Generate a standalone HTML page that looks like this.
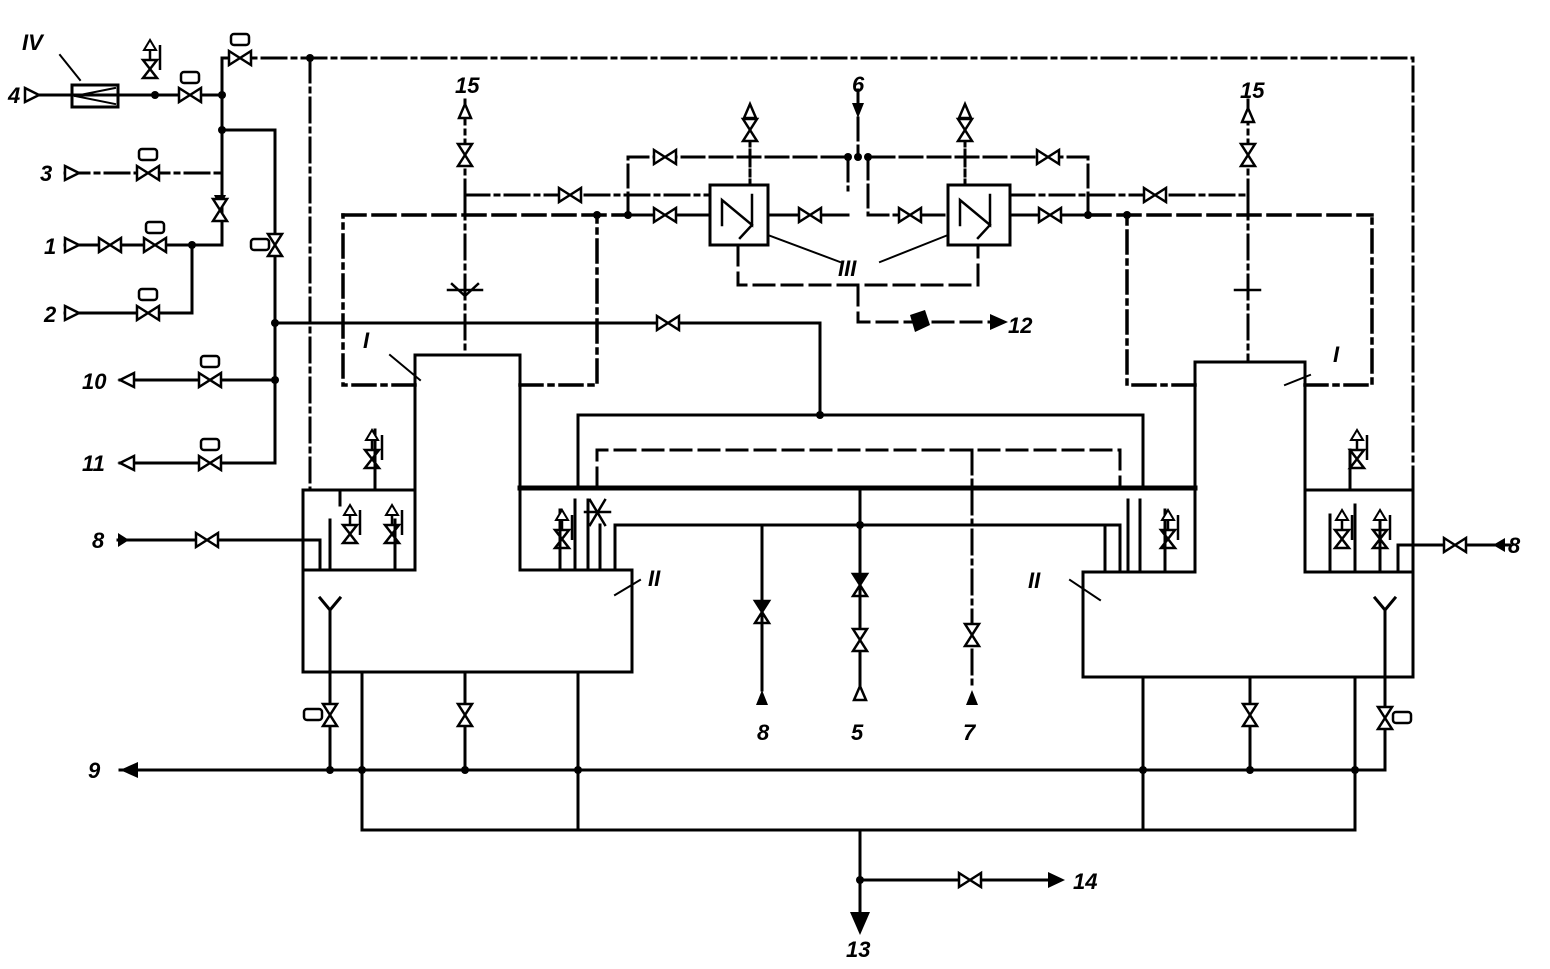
<!DOCTYPE html>
<html><head><meta charset="utf-8"><style>
html,body{margin:0;padding:0;background:#fff;}
svg{display:block}
text{font-family:"Liberation Sans",sans-serif;font-style:italic;font-weight:bold;font-size:22px;fill:#000}
</style></head><body>
<svg width="1550" height="969" viewBox="0 0 1550 969" xmlns="http://www.w3.org/2000/svg">
<defs>
<symbol id="vh" overflow="visible"><path d="M-11,-7 L11,7 L11,-7 L-11,7 Z" fill="#fff" stroke="#000" stroke-width="2.5"/></symbol>
<symbol id="vv" overflow="visible"><path d="M-7,-11 L7,-11 L-7,11 L7,11 Z" fill="#fff" stroke="#000" stroke-width="2.5"/></symbol>
<symbol id="vvf" overflow="visible"><path d="M-7,-11 L7,-11 L0,0 Z" fill="#000"/><path d="M-7,-11 L7,-11 L-7,11 L7,11 Z" fill="none" stroke="#000" stroke-width="2.5"/></symbol>
<symbol id="act" overflow="visible"><rect x="-9" y="-6" width="18" height="11" rx="3" fill="#fff" stroke="#000" stroke-width="2.5"/></symbol>
<symbol id="opn" overflow="visible"><path d="M0,-7 L14,0 L0,7 Z" fill="#fff" stroke="#000" stroke-width="2.5"/></symbol>
<symbol id="sv" overflow="visible"><path d="M0,-30 L-6,-20 L6,-20 Z" fill="#fff" stroke="#000" stroke-width="2"/><path d="M0,-20 L0,-10 M-7,-10 L7,-10 L-7,8 L7,8 Z M10,-25 L10,0" fill="none" stroke="#000" stroke-width="2.5"/></symbol>
</defs>
<g fill="none" stroke="#000" stroke-width="3" stroke-linecap="square">
<path d="M415,355 L520,355 L520,570 L632,570 L632,672 L303,672 L303,570 L415,570 Z"/>
<path d="M1195,362 L1305,362 L1305,572 L1413,572 L1413,677 L1083,677 L1083,572 L1195,572 Z"/>
<path d="M303,570 L303,490 L415,490 M520,488 L580,488 M1305,490 L1413,490 L1413,572"/>
<path d="M222,58 L1413,58 L1413,490 M310,58 L310,490" stroke-dasharray="24 6 4 6"/>
<path d="M35,95 L222,95 M222,58 L222,245 L65,245 M222,130 L275,130 L275,463 L120,463 M192,245 L192,313 L65,313 M275,380 L120,380"/>
<path d="M65,173 L222,173" stroke-dasharray="24 6 4 6"/>
<path d="M275,323 L580,323 M580,323 L820,323 L820,415"/>
<rect x="72" y="85" width="46" height="22"/><path d="M75,96 L115,88 M75,96 L115,104" stroke-width="2"/>
<path d="M60,55 L80,80" stroke-width="2"/>
<path d="M118,540 L320,540 L320,570"/>
<path d="M120,770 L1385,770 L1385,672 M362,672 L362,830 L1355,830 L1355,677 M578,672 L578,830 M1143,677 L1143,830 M860,830 L860,915 M860,880 L1060,880 M330,610 L330,770 M465,672 L465,770 M1250,677 L1250,770 M1385,610 L1385,770"/>
<path d="M320,598 L330,610 L340,598 M1375,598 L1385,610 L1395,598"/>
<path d="M520,488 L1195,488" stroke-width="5"/>
<path d="M578,488 L578,415 L1143,415 L1143,488 M615,570 L615,525 L1120,525 L1120,570 M860,488 L860,690 M762,525 L762,690 M600,570 L600,525 M1105,570 L1105,525"/>
<path d="M597,488 L597,450 L1120,450 L1120,488" stroke-dasharray="20 8"/>
<path d="M972,450 L972,690" stroke-dasharray="24 6 4 6"/>
<path d="M375,490 L375,430 M340,490 L340,505 M560,570 L560,510 M330,570 L330,520 M395,570 L395,520 M1165,572 L1165,510 M1330,572 L1330,515 M1355,572 L1355,505 M1380,572 L1380,520 M1350,490 L1350,450 M1398,572 L1398,545 L1510,545 M575,570 L575,500 M588,570 L588,500 M1128,572 L1128,500 M1140,572 L1140,500"/>
<path d="M343,215 L625,215" stroke-dasharray="22 8" stroke-width="3.5"/>
<path d="M415,385 L343,385 L343,215 M520,385 L597,385 L597,215" stroke-dasharray="22 7 4 7" stroke-width="3.5"/>
<path d="M1088,215 L1372,215" stroke-dasharray="22 8" stroke-width="3.5"/>
<path d="M1195,385 L1127,385 L1127,215 M1305,385 L1372,385 L1372,215" stroke-dasharray="22 7 4 7" stroke-width="3.5"/>
<path d="M628,215 L628,157 L848,157 L848,190 M858,90 L858,157 M868,157 L868,190 L868,215 L948,215 M1088,215 L1088,157 L868,157" stroke-dasharray="22 6"/>
<path d="M628,215 L710,215 M768,215 L848,215 M1010,215 L1088,215"/>
<path d="M465,195 L710,195 M1010,195 L1248,195" stroke-dasharray="24 6 4 6"/>
<path d="M465,100 L465,195 M465,195 L465,355 M1248,100 L1248,195 M1248,195 L1248,362" stroke-dasharray="24 6 4 6"/>
<path d="M750,110 L750,185 M965,110 L965,185" stroke-dasharray="6 4"/>
<rect x="710" y="185" width="58" height="60"/><rect x="948" y="185" width="62" height="60"/>
<path d="M722,225 L722,200 L752,225 L752,195 M740,238 L752,225 M960,225 L960,200 L990,225 L990,195 M978,238 L990,225" stroke-width="2.5"/>
<path d="M738,245 L738,285 L978,285 L978,245 M858,285 L858,322 L990,322" stroke-dasharray="20 8"/>
<path d="M768,235 L840,262 M948,235 L880,262" stroke-width="2"/>
<path d="M390,355 L420,380 M1310,375 L1285,385 M615,595 L640,580 M1100,600 L1070,580" stroke-width="2"/>
<path d="M448,290 L482,290 M452,284 L465,296 M478,284 L465,296 M1235,290 L1260,290" stroke-width="2.5"/>
<path d="M590,500 L605,525 M605,500 L590,525 M585,512 L610,512" stroke-width="2.5"/>
</g>
<g fill="#000">
<circle cx="310" cy="58" r="4"/><circle cx="222" cy="95" r="4"/><circle cx="222" cy="130" r="4"/><circle cx="192" cy="245" r="4"/><circle cx="275" cy="323" r="4"/><circle cx="275" cy="380" r="4"/><circle cx="858" cy="157" r="4"/><circle cx="848" cy="157" r="4"/><circle cx="868" cy="157" r="4"/><circle cx="597" cy="215" r="4"/><circle cx="628" cy="215" r="4"/><circle cx="1088" cy="215" r="4"/><circle cx="1127" cy="215" r="4"/><circle cx="820" cy="415" r="4"/><circle cx="860" cy="525" r="4"/><circle cx="362" cy="770" r="4"/><circle cx="578" cy="770" r="4"/><circle cx="1143" cy="770" r="4"/><circle cx="1355" cy="770" r="4"/><circle cx="330" cy="770" r="4"/><circle cx="465" cy="770" r="4"/><circle cx="1250" cy="770" r="4"/><circle cx="860" cy="880" r="4"/><circle cx="155" cy="95" r="4"/>
<path d="M120,770 L138,762 L138,778 Z"/><path d="M850,912 L870,912 L860,935 Z"/><path d="M1065,880 L1048,872 L1048,888 Z"/><path d="M1008,322 L990,314 L990,330 Z"/>
<path d="M852,103 L864,103 L858,118 Z"/><path d="M756,705 L768,705 L762,690 Z"/><path d="M966,705 L978,705 L972,690 Z"/>
<path d="M118,533 L118,547 L129,540 Z"/><path d="M1505,538 L1505,552 L1493,545 Z"/>
<path d="M214,195 L226,195 L220,208 Z"/>
<path d="M910,315 L925,310 L930,325 L915,332 Z"/>
</g>
<g>
<use href="#opn" x="25" y="95"/><use href="#opn" x="65" y="173"/><use href="#opn" x="65" y="245"/><use href="#opn" x="65" y="313"/>
<path d="M120,380 L134,373 L134,387 Z M120,463 L134,456 L134,470 Z" fill="#fff" stroke="#000" stroke-width="2.5"/>
<path d="M459,118 L471,118 L465,104 Z M1242,122 L1254,122 L1248,108 Z M744,118 L756,118 L750,104 Z M959,118 L971,118 L965,104 Z M854,700 L866,700 L860,686 Z" fill="#fff" stroke="#000" stroke-width="2.5"/>
<use href="#vh" x="190" y="95"/><use href="#act" x="190" y="78"/>
<use href="#vh" x="240" y="58"/><use href="#act" x="240" y="40"/>
<use href="#vh" x="148" y="173"/><use href="#act" x="148" y="155"/>
<use href="#vh" x="110" y="245"/><use href="#vh" x="155" y="245"/><use href="#act" x="155" y="228"/>
<use href="#vh" x="148" y="313"/><use href="#act" x="148" y="295"/>
<use href="#vh" x="210" y="380"/><use href="#act" x="210" y="362"/>
<use href="#vh" x="210" y="463"/><use href="#act" x="210" y="445"/>
<use href="#vv" x="220" y="210"/><use href="#vv" x="275" y="245"/><use href="#act" x="260" y="245"/>
<use href="#vh" x="207" y="540"/><use href="#vh" x="668" y="323"/>
<use href="#vv" x="465" y="155"/><use href="#vv" x="1248" y="155"/><use href="#vv" x="750" y="130"/><use href="#vv" x="965" y="130"/>
<use href="#vh" x="665" y="157"/><use href="#vh" x="1048" y="157"/><use href="#vh" x="570" y="195"/><use href="#vh" x="1155" y="195"/>
<use href="#vh" x="665" y="215"/><use href="#vh" x="810" y="215"/><use href="#vh" x="910" y="215"/><use href="#vh" x="1050" y="215"/>
<use href="#vvf" x="762" y="612"/><use href="#vvf" x="860" y="585"/><use href="#vv" x="860" y="640"/><use href="#vv" x="972" y="635"/>
<use href="#vv" x="330" y="715"/><use href="#act" x="313" y="715"/><use href="#vv" x="465" y="715"/><use href="#vv" x="1250" y="715"/><use href="#vv" x="1385" y="718"/><use href="#act" x="1402" y="718"/>
<use href="#vh" x="970" y="880"/><use href="#vh" x="1455" y="545"/>
<use href="#sv" x="150" y="70"/><use href="#sv" x="372" y="460"/><use href="#sv" x="350" y="535"/><use href="#sv" x="392" y="535"/><use href="#sv" x="562" y="540"/><use href="#sv" x="1168" y="540"/><use href="#sv" x="1357" y="460"/><use href="#sv" x="1342" y="540"/><use href="#sv" x="1380" y="540"/>
</g>
<text x="22" y="50">IV</text><text x="8" y="103">4</text><text x="40" y="181">3</text><text x="44" y="254">1</text><text x="44" y="322">2</text>
<text x="82" y="389">10</text><text x="82" y="471">11</text><text x="92" y="548">8</text><text x="88" y="778">9</text>
<text x="455" y="93">15</text><text x="852" y="92">6</text><text x="1240" y="98">15</text><text x="838" y="276">III</text><text x="1008" y="333">12</text>
<text x="363" y="348">I</text><text x="1333" y="362">I</text><text x="648" y="586">II</text><text x="1028" y="588">II</text>
<text x="1508" y="553">8</text><text x="757" y="740">8</text><text x="851" y="740">5</text><text x="963" y="740">7</text>
<text x="1073" y="889">14</text><text x="846" y="957">13</text>
</svg>
</body></html>
